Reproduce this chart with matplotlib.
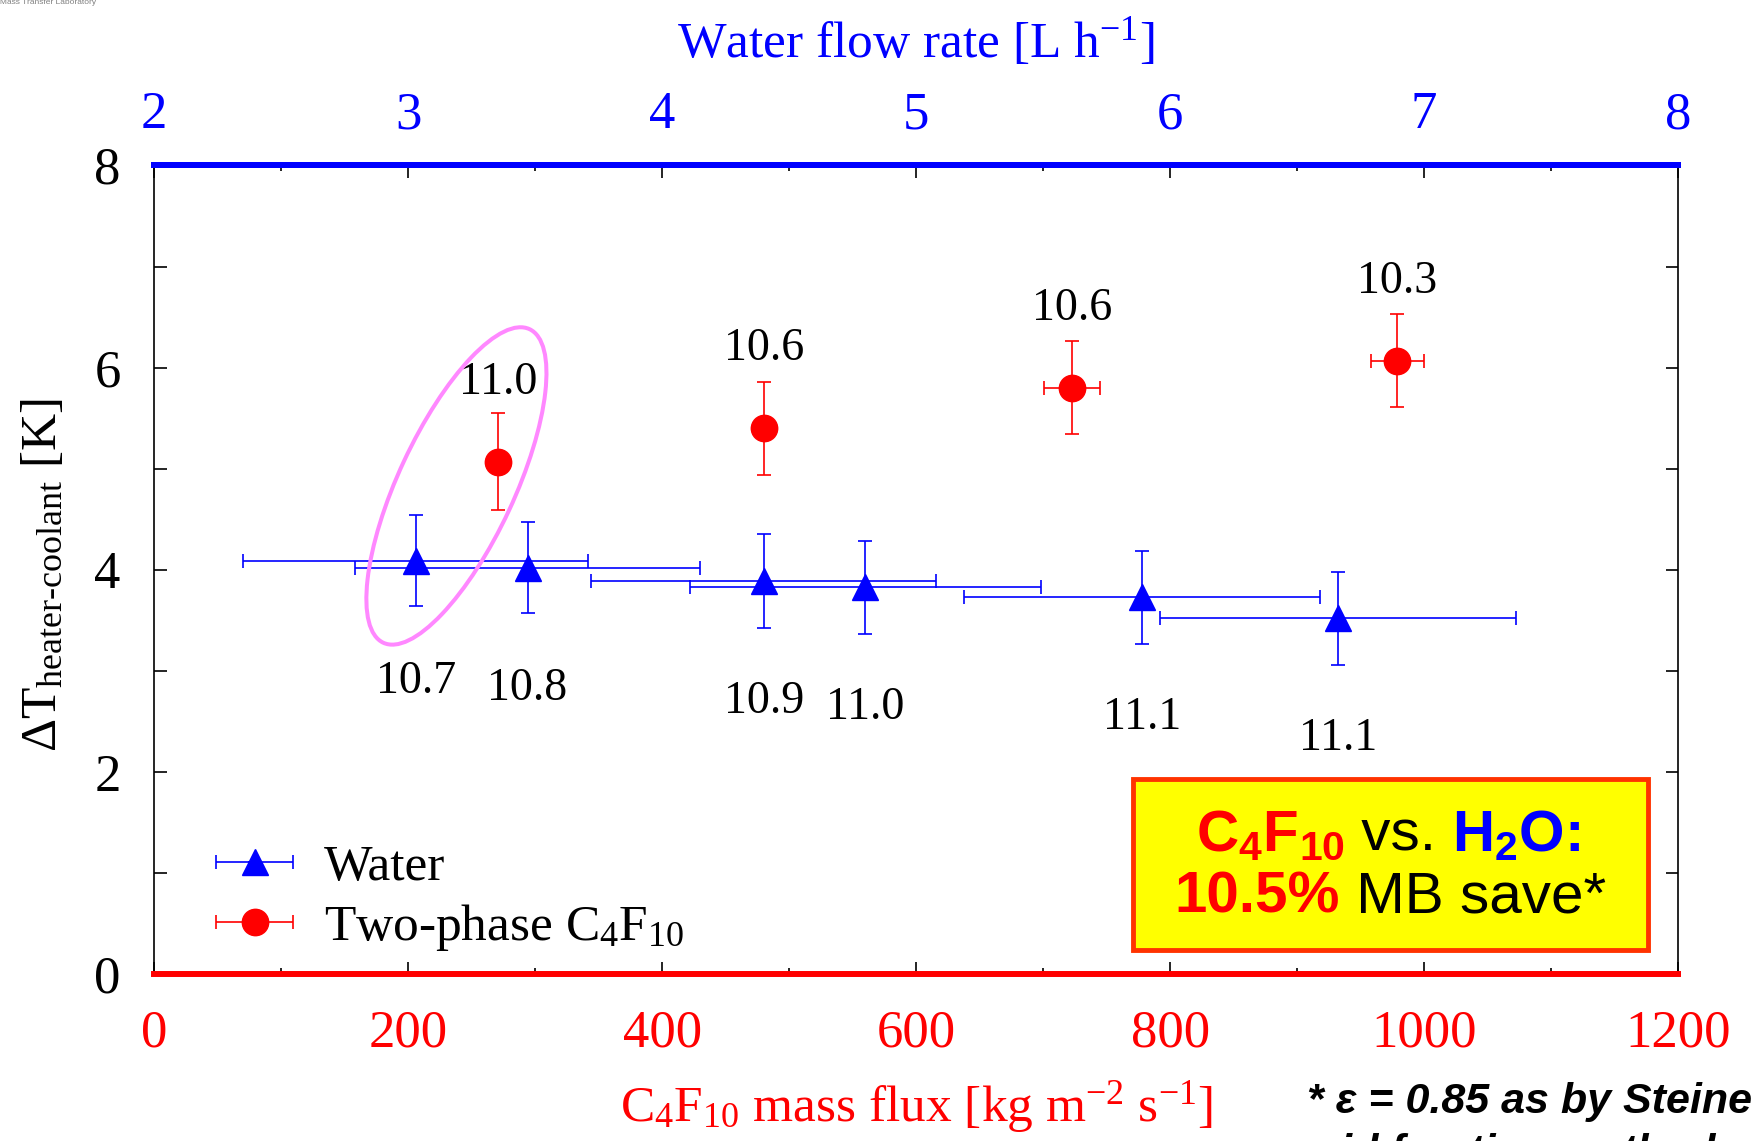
import numpy as np
import matplotlib
matplotlib.use('Agg')
import matplotlib.pyplot as plt
from matplotlib.ticker import MultipleLocator
from matplotlib.patches import Rectangle, Ellipse
from matplotlib.container import ErrorbarContainer
from matplotlib.legend_handler import HandlerErrorbar
from matplotlib.offsetbox import TextArea, HPacker, VPacker, AnchoredOffsetbox
import matplotlib.transforms as mtransforms

plt.rcParams['font.family'] = ['Liberation Serif', 'DejaVu Serif']
plt.rcParams['mathtext.default'] = 'regular'
plt.rcParams['mathtext.fontset'] = 'custom'
plt.rcParams['mathtext.rm'] = 'Liberation Serif'

# water runs (top axis: flow rate in L/h)
water_flow = [3.03, 3.47, 4.40, 4.80, 5.89, 6.66]
water_flow_err = [0.68, 0.68, 0.68, 0.69, 0.70, 0.70]
water_dT = [4.09, 4.02, 3.89, 3.83, 3.73, 3.52]
water_dT_err = [0.45, 0.45, 0.46, 0.46, 0.46, 0.46]
water_mb = ['10.7', '10.8', '10.9', '11.0', '11.1', '11.1']

# two-phase C4F10 runs (bottom axis: mass flux)
c4f10_flux = [271, 480, 723, 979]
c4f10_flux_err = [4, 8, 22, 21]
c4f10_dT = [5.07, 5.40, 5.80, 6.07]
c4f10_dT_err = [0.48, 0.46, 0.46, 0.46]
c4f10_mb = ['11.0', '10.6', '10.6', '10.3']

flow_ticks = [2, 3, 4, 5, 6, 7, 8]


def flux_to_flow(m):
    return 2 + np.asarray(m) / 200.0


def flow_to_flux(f):
    return (np.asarray(f) - 2) * 200.0


blue = '#0000FF'
red = '#FF0000'

fig = plt.figure(figsize=(17.52, 11.41), dpi=100)
ax = fig.add_axes([0.0880, 0.1461, 0.8698, 0.7089])

water = ax.errorbar(flow_to_flux(water_flow), water_dT, xerr=np.array(water_flow_err) * 200,
                    yerr=water_dT_err, fmt='^', color=blue, ms=19, elinewidth=1.2,
                    capsize=5, capthick=1.2, label='Water', zorder=3)
c4f10 = ax.errorbar(c4f10_flux, c4f10_dT, xerr=c4f10_flux_err, yerr=c4f10_dT_err,
                    fmt='o', color=red, ms=19, elinewidth=1.2, capsize=5, capthick=1.2,
                    label='Two-phase C$_4$F$_{10}$', zorder=3)

# material budget labels
for x, y, s in zip(flow_to_flux(water_flow), water_dT, water_mb):
    ax.annotate(s, (x, y), xytext=(0, -87), textcoords='offset points',
                ha='center', va='center', fontsize=33)
for x, y, s in zip(c4f10_flux, c4f10_dT, c4f10_mb):
    ax.annotate(s, (x, y), xytext=(0, 57), textcoords='offset points',
                ha='center', va='center', fontsize=33)

# highlight ellipse around first pair
ell_tr = fig.dpi_scale_trans + mtransforms.ScaledTranslation(238, 4.83, ax.transData)
ax.add_patch(Ellipse((0, 0), 3.46, 1.16, angle=65, transform=ell_tr,
                     fill=False, ec='#FF88FF', lw=2.9, zorder=4))

ax.set_xlim(0, 1200)
ax.set_ylim(0, 8)
ax.xaxis.set_major_locator(MultipleLocator(200))
ax.xaxis.set_minor_locator(MultipleLocator(100))
ax.yaxis.set_major_locator(MultipleLocator(2))
ax.yaxis.set_minor_locator(MultipleLocator(1))
ax.tick_params(axis='x', which='both', direction='in', top=False, labelcolor=red,
               labelsize=38, pad=25)
ax.tick_params(axis='x', which='major', length=9, width=1.2)
ax.tick_params(axis='x', which='minor', length=4, width=1.2)
ax.tick_params(axis='y', which='both', direction='in', right=True, length=9, width=1.2,
               labelsize=38, pad=24)

for side in ['left', 'right']:
    ax.spines[side].set_linewidth(1.2)
ax.spines['bottom'].set_color(red)
ax.spines['bottom'].set_linewidth(4.3)
ax.spines['top'].set_color(blue)
ax.spines['top'].set_linewidth(4.3)

secax = ax.secondary_xaxis('top', functions=(flux_to_flow, flow_to_flux))
secax.set_xticks(flow_ticks)
secax.set_xticks([f + 0.5 for f in flow_ticks[:-1]], minor=True)
secax.tick_params(axis='x', which='both', direction='in', labelcolor=blue, labelsize=38,
                  pad=19, width=1.2)
secax.tick_params(axis='x', which='major', length=9)
secax.tick_params(axis='x', which='minor', length=4)
secax.spines['top'].set_color(blue)
secax.spines['top'].set_linewidth(4.3)

ax.set_xlabel('C$_4$F$_{10}$ mass flux [kg m$^{-2}$ s$^{-1}$]', color=red, fontsize=37,
              va='center')
ax.xaxis.set_label_coords(0.5, -0.164)
ax.set_ylabel(r'ΔT$_{\text{heater-coolant}}$ [K]', fontsize=37, va='center')
ax.yaxis.set_label_coords(-0.0725, 0.494)
ax.text(0.5, 1.153, 'Water flow rate [L h$^{-1}$]', transform=ax.transAxes,
        ha='center', va='center', color=blue, fontsize=37)

ax.legend(handles=[water, c4f10], loc='center left', bbox_to_anchor=(0.0407, 0.094),
          frameon=False, fontsize=37, borderpad=0, borderaxespad=0, labelspacing=0.22,
          handlelength=1.5, handletextpad=0.6,
          handler_map={ErrorbarContainer: HandlerErrorbar(xerr_size=0.75, yerr_size=0)})

# summary box
ax.add_patch(Rectangle((0.642, 0.030), 0.338, 0.211, transform=ax.transAxes,
                       fc='#FFFF00', ec='#FF3300', lw=3.5, zorder=5))
sans_b = dict(family='Liberation Sans', fontsize=42, fontweight='bold')
sans_n = dict(family='Liberation Sans', fontsize=42)
row1 = HPacker(children=[TextArea('C$_4$F$_{10}$', textprops=dict(color=red, **sans_b)),
                         TextArea(' vs. ', textprops=dict(color='black', **sans_n)),
                         TextArea('H$_2$O', textprops=dict(color=blue, **sans_b)),
                         TextArea(':', textprops=dict(color=blue, **sans_b))],
               align='baseline', pad=0, sep=0)
row2 = HPacker(children=[TextArea('10.5%', textprops=dict(color=red, **sans_b)),
                         TextArea(' MB save*', textprops=dict(color='black', **sans_n))],
               align='baseline', pad=0, sep=0)
box = AnchoredOffsetbox(loc='center', child=VPacker(children=[row1, row2], align='center',
                                                    pad=0, sep=6),
                        bbox_to_anchor=(0.811, 0.133), bbox_transform=ax.transAxes,
                        frameon=False, pad=0, borderpad=0)
box.set_zorder(6)
ax.add_artist(box)

# footnote and header remnants
fig.text(1307 / 1752, 1 - 1102 / 1141, '* ε = 0.85 as by Steiner', family='Liberation Sans',
         fontsize=31, fontweight='bold', style='italic', ha='left', va='center')
fig.text(1290 / 1752, 1 - 1153 / 1141, 'void fraction method', family='Liberation Sans',
         fontsize=31, fontweight='bold', style='italic', ha='left', va='center')
fig.text(0.0, 1 - 3 / 1141, 'Mass Transfer Laboratory', family='Liberation Sans',
         fontsize=6, color='gray', ha='left', va='center')

fig.savefig('out.png', dpi=100)
